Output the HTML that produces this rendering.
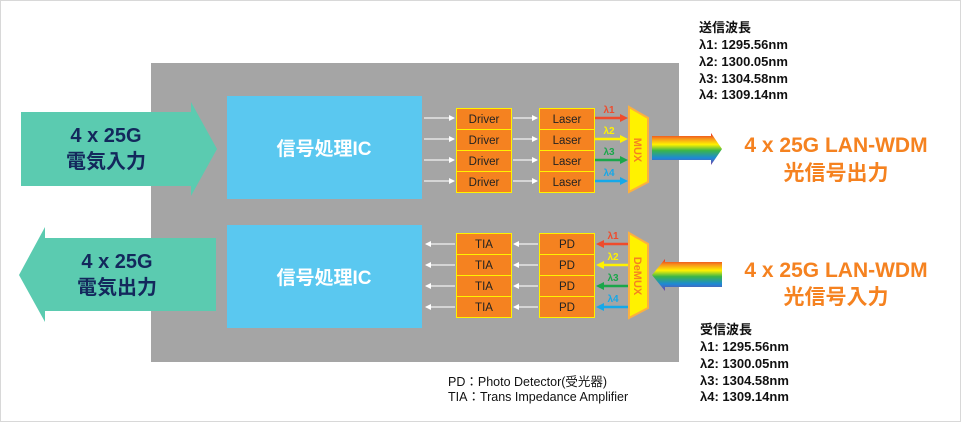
<!DOCTYPE html>
<html><head><meta charset="utf-8"><style>
body{margin:0;background:#fff}
svg{display:block;font-family:"Liberation Sans","Noto Sans CJK JP",sans-serif}
</style></head><body>
<svg width="961" height="422" viewBox="0 0 961 422">
<defs>
<linearGradient id="rb" x1="0" y1="0" x2="0" y2="1">
<stop offset="0" stop-color="#e8231c"/><stop offset="0.18" stop-color="#f7941d"/><stop offset="0.36" stop-color="#fff200"/><stop offset="0.55" stop-color="#39b54a"/><stop offset="0.78" stop-color="#1c8ad6"/><stop offset="1" stop-color="#7b3fa0"/>
</linearGradient>
<marker id="wa" markerWidth="6" markerHeight="6" refX="5" refY="3" orient="auto" markerUnits="userSpaceOnUse"><path d="M0,0L6,3L0,6z" fill="#fff"/></marker>
</defs>
<rect x="0.5" y="0.5" width="960" height="421" fill="#fff" stroke="#d8d8d8"/>
<rect x="151" y="63" width="528" height="299" fill="#a5a5a5"/>
<path d="M21,112H191V102L217,149L191,196V186H21Z" fill="#5bcbb0"/>
<path d="M216,238H45V227L19,275L45,322V311H216Z" fill="#5bcbb0"/>
<g fill="#13285c" font-weight="bold" font-size="20" text-anchor="middle">
<text x="106" y="142">4 x 25G</text><text x="106" y="168">電気入力</text>
<text x="117" y="268">4 x 25G</text><text x="117" y="294">電気出力</text>
</g>
<rect x="227" y="96" width="195" height="103" fill="#5ac8f0"/>
<rect x="227" y="225" width="195" height="103" fill="#5ac8f0"/>
<g fill="#fff" font-weight="bold" font-size="19" text-anchor="middle">
<text x="324" y="155">信号処理IC</text><text x="324" y="284">信号処理IC</text>
</g>
<g fill="#f58220" stroke="#fff200" stroke-width="1">
<rect x="456.5" y="108.5" width="55" height="21"/><rect x="456.5" y="129.5" width="55" height="21"/><rect x="456.5" y="150.5" width="55" height="21"/><rect x="456.5" y="171.5" width="55" height="21"/>
<rect x="539.5" y="108.5" width="55" height="21"/><rect x="539.5" y="129.5" width="55" height="21"/><rect x="539.5" y="150.5" width="55" height="21"/><rect x="539.5" y="171.5" width="55" height="21"/>
<rect x="456.5" y="233.5" width="55" height="21"/><rect x="456.5" y="254.5" width="55" height="21"/><rect x="456.5" y="275.5" width="55" height="21"/><rect x="456.5" y="296.5" width="55" height="21"/>
<rect x="539.5" y="233.5" width="55" height="21"/><rect x="539.5" y="254.5" width="55" height="21"/><rect x="539.5" y="275.5" width="55" height="21"/><rect x="539.5" y="296.5" width="55" height="21"/>
</g>
<g fill="#222" font-size="11.5" text-anchor="middle">
<text x="484" y="123">Driver</text><text x="484" y="144">Driver</text><text x="484" y="165">Driver</text><text x="484" y="186">Driver</text>
<text x="567" y="123">Laser</text><text x="567" y="144">Laser</text><text x="567" y="165">Laser</text><text x="567" y="186">Laser</text>
<text x="484" y="248">TIA</text><text x="484" y="269">TIA</text><text x="484" y="290">TIA</text><text x="484" y="311">TIA</text>
<text x="567" y="248">PD</text><text x="567" y="269">PD</text><text x="567" y="290">PD</text><text x="567" y="311">PD</text>
</g>
<g stroke="#f2f2f2" stroke-width="1.2" marker-end="url(#wa)">
<line x1="424" y1="118" x2="454" y2="118"/><line x1="424" y1="139" x2="454" y2="139"/><line x1="424" y1="160" x2="454" y2="160"/><line x1="424" y1="181" x2="454" y2="181"/>
<line x1="513" y1="118" x2="537" y2="118"/><line x1="513" y1="139" x2="537" y2="139"/><line x1="513" y1="160" x2="537" y2="160"/><line x1="513" y1="181" x2="537" y2="181"/>
<line x1="455" y1="244" x2="426" y2="244"/><line x1="455" y1="265" x2="426" y2="265"/><line x1="455" y1="286" x2="426" y2="286"/><line x1="455" y1="307" x2="426" y2="307"/>
<line x1="538" y1="244" x2="514" y2="244"/><line x1="538" y1="265" x2="514" y2="265"/><line x1="538" y1="286" x2="514" y2="286"/><line x1="538" y1="307" x2="514" y2="307"/>
</g>
<g stroke-width="2.5">
<path d="M595,118H622" stroke="#ef4b2c"/><path d="M620,114L628,118L620,122z" fill="#ef4b2c"/>
<path d="M595,139H622" stroke="#fff200"/><path d="M620,135L628,139L620,143z" fill="#fff200"/>
<path d="M595,160H622" stroke="#1aa64a"/><path d="M620,156L628,160L620,164z" fill="#1aa64a"/>
<path d="M595,181H622" stroke="#16a8e8"/><path d="M620,177L628,181L620,185z" fill="#16a8e8"/>
<path d="M628,244H602" stroke="#ef4b2c"/><path d="M604,240L596,244L604,248z" fill="#ef4b2c"/>
<path d="M628,265H602" stroke="#fff200"/><path d="M604,261L596,265L604,269z" fill="#fff200"/>
<path d="M628,286H602" stroke="#1aa64a"/><path d="M604,282L596,286L604,290z" fill="#1aa64a"/>
<path d="M628,307H602" stroke="#16a8e8"/><path d="M604,303L596,307L604,311z" fill="#16a8e8"/>
</g>
<g font-size="10" font-weight="bold" text-anchor="middle">
<text x="609" y="113" fill="#ef4b2c">λ1</text><text x="609" y="134" fill="#fff200">λ2</text><text x="609" y="155" fill="#1aa64a">λ3</text><text x="609" y="176" fill="#16a8e8">λ4</text>
<text x="613" y="239" fill="#ef4b2c">λ1</text><text x="613" y="260" fill="#fff200">λ2</text><text x="613" y="281" fill="#1aa64a">λ3</text><text x="613" y="302" fill="#16a8e8">λ4</text>
</g>
<path d="M629,107L648,118V182L629,192Z" fill="#fff200" stroke="#fbb040" stroke-width="2"/>
<path d="M629,233L648,244V308L629,318Z" fill="#fff200" stroke="#fbb040" stroke-width="2"/>
<text transform="translate(634,150) rotate(90)" fill="#f58220" font-size="11" font-weight="bold" text-anchor="middle">MUX</text>
<text transform="translate(634,276) rotate(90)" fill="#f58220" font-size="11" font-weight="bold" text-anchor="middle">DeMUX</text>
<path d="M652,136H711V133L722,149L711,165V160H652Z" fill="url(#rb)"/>
<path d="M722,262H665V259L652,275L665,291V287H722Z" fill="url(#rb)"/>
<g fill="#f58220" font-weight="bold" font-size="21" text-anchor="middle">
<text x="836" y="152">4 x 25G LAN-WDM</text><text x="836" y="180">光信号出力</text>
<text x="836" y="277">4 x 25G LAN-WDM</text><text x="836" y="304">光信号入力</text>
</g>
<g fill="#111" font-size="13" font-weight="bold">
<text x="699" y="32">送信波長</text><text x="699" y="49">λ1: 1295.56nm</text><text x="699" y="66">λ2: 1300.05nm</text><text x="699" y="83">λ3: 1304.58nm</text><text x="699" y="99">λ4: 1309.14nm</text>
<text x="700" y="334">受信波長</text><text x="700" y="351">λ1: 1295.56nm</text><text x="700" y="368">λ2: 1300.05nm</text><text x="700" y="385">λ3: 1304.58nm</text><text x="700" y="401">λ4: 1309.14nm</text>
</g>
<g fill="#111" font-size="12.5">
<text x="448" y="386">PD：Photo Detector(受光器)</text>
<text x="448" y="401">TIA：Trans Impedance Amplifier</text>
</g>
</svg>
</body></html>
